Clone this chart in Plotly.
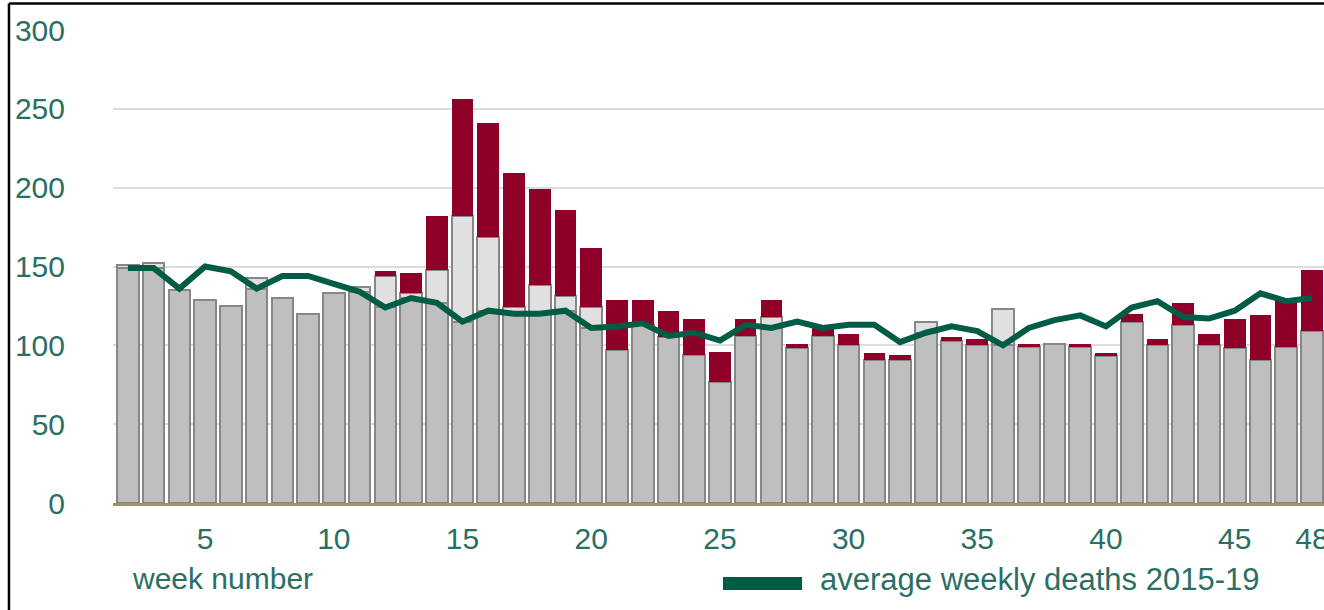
import plotly.graph_objects as go

weeks = list(range(2, 49))

non_covid = [151, 152, 135, 129, 125, 143, 130, 120, 133, 137, 144, 133, 148, 182, 169, 124,
             138, 131, 124, 97, 113, 105, 94, 77, 106, 118, 98, 106, 100, 91, 91, 115,
             103, 100, 123, 99, 101, 99, 93, 115, 100, 113, 100, 98, 91, 99, 109]

covid = [0, 0, 0, 0, 0, 0, 0, 0, 0, 0, 3, 13, 34, 74, 72, 85,
         61, 55, 38, 32, 16, 17, 23, 19, 11, 11, 3, 5, 7, 4, 3, 0,
         2, 4, 0, 2, 0, 2, 2, 5, 4, 14, 7, 19, 28, 30, 39]

avg_2015_19 = [149, 149, 136, 150, 147, 136, 144, 144, 139, 134, 124, 130, 127, 115, 122, 120,
               120, 122, 111, 112, 114, 106, 108, 103, 113, 111, 115, 111, 113, 113, 102, 108,
               112, 109, 100, 111, 116, 119, 112, 124, 128, 118, 117, 122, 133, 128, 130]

x_ticks = [5, 10, 15, 20, 25, 30, 35, 40, 45, 48]
y_ticks = [0, 50, 100, 150, 200, 250, 300]

# split non-covid deaths into the part up to the 2015-19 average and the part above it
below_avg = [min(n, a) for n, a in zip(non_covid, avg_2015_19)]
above_avg = [max(n - a, 0) for n, a in zip(non_covid, avg_2015_19)]

TEAL = "#2a6f64"
LINE_GREEN = "#005c44"
FONT = "Liberation Sans, Arial, sans-serif"
FS = 30

fig = go.Figure()
fig.add_trace(go.Bar(x=weeks, y=below_avg, marker=dict(color="#bfbfbf", line=dict(color="#878787", width=2)),
                     showlegend=False, name="deaths"))
fig.add_trace(go.Bar(x=weeks, y=above_avg, marker=dict(color="#e0e0e0", line=dict(color="#878787", width=2)),
                     showlegend=False, name="excess non-covid"))
fig.add_trace(go.Bar(x=weeks, y=covid, marker=dict(color="#8f0029", line=dict(width=0)),
                     showlegend=False, name="covid"))
fig.add_trace(go.Scatter(x=weeks, y=avg_2015_19, mode="lines", line=dict(color=LINE_GREEN, width=6),
                         showlegend=False, name="average weekly deaths 2015-19"))

fig.update_layout(
    width=1324, height=610,
    margin=dict(l=113, r=0, t=30, b=107, autoexpand=False),
    barmode="stack", bargap=0.16,
    plot_bgcolor="white", paper_bgcolor="white",
    font=dict(family=FONT, color=TEAL, size=FS),
    xaxis=dict(range=[1.42, 48.47], tickvals=x_ticks, showgrid=False, zeroline=False,
               showline=True, linecolor="#9b9468", linewidth=2.5, ticks="", automargin=False,
               ticklabelstandoff=7, ticklabeloverflow="allow",
               tickfont=dict(size=FS, color=TEAL, family=FONT)),
    yaxis=dict(range=[0, 300], tickvals=y_ticks, showgrid=True, gridcolor="#dcdcdc", gridwidth=2,
               zeroline=False, showline=False, ticks="", ticklabelstandoff=47, automargin=False,
               ticklabeloverflow="allow",
               tickfont=dict(size=FS, color=TEAL, family=FONT)),
    annotations=[
        dict(text="week number", xref="paper", yref="paper", x=0.014, y=-0.159,
             xanchor="left", yanchor="middle", showarrow=False, font=dict(size=FS, color=TEAL, family=FONT)),
        dict(text="average weekly deaths 2015-19", xref="paper", yref="paper", x=0.582, y=-0.162,
             xanchor="left", yanchor="middle", showarrow=False, font=dict(size=31, color=TEAL, family=FONT)),
    ],
    shapes=[
        dict(type="rect", xref="paper", yref="paper", x0=0.5037, x1=0.569, y0=-0.1839, y1=-0.1564,
             fillcolor=LINE_GREEN, line=dict(width=0)),
        dict(type="line", xref="paper", yref="paper", x0=-0.0859, x1=-0.0859, y0=1.056, y1=-0.3,
             line=dict(color="black", width=2.5)),
        dict(type="line", xref="paper", yref="paper", x0=-0.0859, x1=1.01, y0=1.056, y1=1.056,
             line=dict(color="black", width=2.5)),
    ],
)

fig.write_html("out.html", config={"displayModeBar": False},
               post_script="document.body.style.margin='0';document.body.style.padding='0';")
